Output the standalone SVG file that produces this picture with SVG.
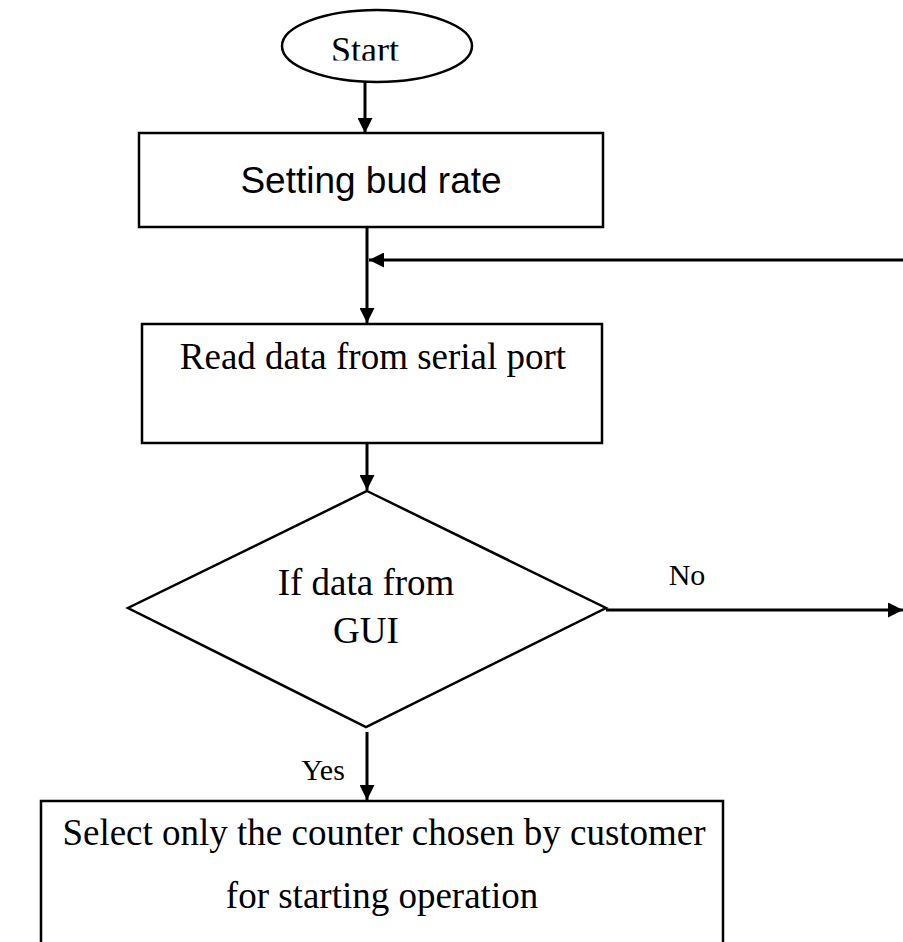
<svg xmlns="http://www.w3.org/2000/svg" width="903" height="942" viewBox="0 0 903 942">
<defs>
<style>
.s{fill:#fff;stroke:#000;stroke-width:2.5}
.t{font-family:"Liberation Serif","Times New Roman",serif;fill:#000;text-anchor:middle}
.c{stroke:#000;stroke-width:3;fill:none}
</style>
<marker id="a" viewBox="0 0 10 10" refX="10" refY="5" markerWidth="5" markerHeight="5" orient="auto">
<path d="M0,0 L10,5 L0,10 Z" fill="#000"/>
</marker>
<clipPath id="clipStart"><rect x="280" y="10" width="200" height="50.5"/></clipPath>
</defs>
<rect width="903" height="942" fill="#fff"/>
<g id="connectors">
<line class="c" x1="365" y1="82" x2="365" y2="133" marker-end="url(#a)"/>
<line class="c" x1="367" y1="227" x2="367" y2="323" marker-end="url(#a)"/>
<line class="c" x1="903" y1="260" x2="369" y2="260" marker-end="url(#a)"/>
<line class="c" x1="367" y1="443" x2="367" y2="490" marker-end="url(#a)"/>
<line class="c" x1="606" y1="610" x2="903" y2="610" marker-end="url(#a)"/>
<line class="c" x1="367" y1="732" x2="367" y2="800" marker-end="url(#a)"/>
<text class="t" x="687" y="585" font-size="30">No</text>
<text class="t" x="323" y="780" font-size="30">Yes</text>
</g>
<g id="start">
<ellipse class="s" cx="377" cy="46" rx="95" ry="36"/>
<text class="t" x="365" y="62" font-size="36" clip-path="url(#clipStart)">Start</text>
</g>
<g id="setbaud">
<rect class="s" x="139" y="133" width="464" height="94"/>
<text x="371" y="193" font-size="37" text-anchor="middle" font-family="'Liberation Sans',Arial,sans-serif">Setting bud rate</text>
</g>
<g id="read">
<rect class="s" x="142" y="324" width="460" height="119"/>
<text class="t" x="373" y="369" font-size="37">Read data from serial port</text>
</g>
<g id="decision">
<polygon class="s" points="367,491 606,608 366,727 128,608"/>
<text class="t" x="366" y="595" font-size="37">If data from</text>
<text class="t" x="366" y="643" font-size="37">GUI</text>
</g>
<g id="select">
<rect class="s" x="41" y="801" width="682" height="160"/>
<text class="t" x="384" y="845" font-size="37">Select only the counter chosen by customer</text>
<text class="t" x="382" y="908" font-size="37">for starting operation</text>
</g>
</svg>
